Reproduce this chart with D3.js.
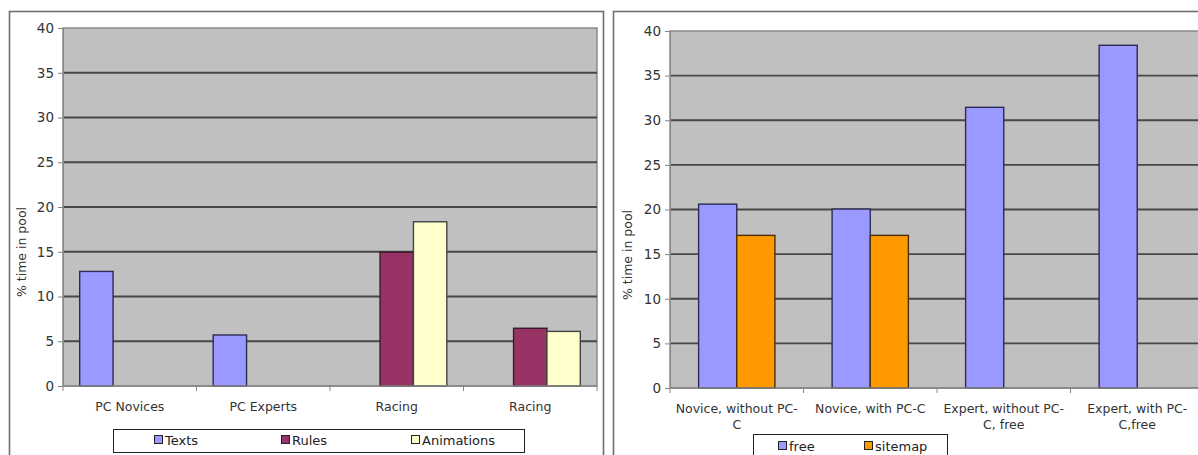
<!DOCTYPE html>
<html>
<head>
<meta charset="utf-8">
<script src="https://cdn.jsdelivr.net/npm/d3@7"></script>
<style>
  html, body { margin: 0; padding: 0; background: #fff; }
  svg { display: block; font-family: "DejaVu Sans", Verdana, sans-serif; }
</style>
</head>
<body>
<svg id="chart" width="1198" height="455"></svg>
<script>
// Left chart: share of time spent in the pool by user group and content type
const leftCategories = ["PC Novices", "PC Experts", "Racing", "Racing"];
const leftSeriesNames = ["Texts", "Rules", "Animations"];
const leftTexts = [12.8, 5.7, null, null];
const leftRules = [null, null, 14.95, 6.45];
const leftAnimations = [null, null, 18.35, 6.1];

// Right chart: free navigation versus sitemap
const rightCategories = [["Novice, without PC-", "C"], ["Novice, with PC-C"], ["Expert, without PC-", "C, free"], ["Expert, with PC-", "C,free"]];
const rightSeriesNames = ["free", "sitemap"];
const rightFree = [20.6, 20.05, 31.45, 38.4];
const rightSitemap = [17.1, 17.1, null, null];

const yTicks = [0, 5, 10, 15, 20, 25, 30, 35, 40];
const axisTitle = "% time in pool";

const svg = d3.select("#chart");

// outer frames of the two panels
svg.append("rect").attr("x", 9.5).attr("y", 11.5).attr("width", 594).attr("height", 460)
  .attr("fill", "#fff").attr("stroke", "#6e6e6e").attr("stroke-width", 1.6);
svg.append("rect").attr("x", 613.5).attr("y", 11.5).attr("width", 600).attr("height", 460)
  .attr("fill", "#fff").attr("stroke", "#6e6e6e").attr("stroke-width", 1.6);

function drawPanel(cfg) {
  const g = svg.append("g");
  const x = d3.scaleBand().domain(d3.range(cfg.categories.length))
    .range([cfg.x0, cfg.x1]).paddingInner(0).paddingOuter(0);
  const xs = d3.scaleBand().domain(d3.range(cfg.series.length))
    .range([0, x.bandwidth()]).paddingInner(0).paddingOuter(cfg.outerPad);
  const y = d3.scaleLinear().domain([0, 40]).range([cfg.y1, cfg.y0]);

  // plot background
  g.append("rect").attr("x", cfg.x0).attr("y", y(40)).attr("width", cfg.x1 - cfg.x0)
    .attr("height", y(0) - y(40)).attr("fill", "#c0c0c0")
    .attr("stroke", "#858585").attr("stroke-width", 1.4);

  // horizontal gridlines
  g.selectAll("line.grid").data(yTicks.filter(t => t > 0 && t < 40)).enter().append("line")
    .attr("x1", cfg.x0).attr("x2", cfg.x1)
    .attr("y1", d => y(d)).attr("y2", d => y(d))
    .attr("stroke", "#474747").attr("stroke-width", 1.8);

  // y axis
  const yAxis = d3.axisLeft(y).tickValues(yTicks).tickSize(5).tickPadding(4);
  const ya = g.append("g").attr("transform", `translate(${cfg.x0},0)`).call(yAxis);
  ya.select(".domain").attr("stroke", "#858585");
  ya.selectAll(".tick line").attr("stroke", "#858585");
  ya.selectAll(".tick text").attr("font-size", 13.5).attr("fill", "#333")
    .attr("font-family", "DejaVu Sans, Verdana, sans-serif");

  // bars
  cfg.values.forEach((vals, si) => {
    g.selectAll(null).data(vals.map((v, i) => ({ v, i })).filter(d => d.v != null))
      .enter().append("rect")
      .attr("x", d => x(d.i) + xs(si))
      .attr("y", d => y(d.v))
      .attr("width", xs.bandwidth())
      .attr("height", d => y(0) - y(d.v))
      .attr("fill", cfg.colors[si])
      .attr("stroke", cfg.strokes[si]).attr("stroke-width", 1.4);
  });

  // x axis with ticks between categories
  const xa = g.append("g");
  xa.append("line").attr("x1", cfg.x0).attr("x2", cfg.x1).attr("y1", y(0)).attr("y2", y(0))
    .attr("stroke", "#858585").attr("stroke-width", 1.4);
  const bounds = d3.range(cfg.categories.length + 1).map(i => cfg.x0 + i * x.step());
  xa.selectAll("line.t").data(bounds).enter().append("line")
    .attr("x1", d => d).attr("x2", d => d).attr("y1", y(0)).attr("y2", y(0) + 5)
    .attr("stroke", "#858585");

  // category labels
  cfg.categories.forEach((c, i) => {
    const lines = Array.isArray(c) ? c : [c];
    const t = xa.append("text").attr("text-anchor", "middle").attr("font-size", 12.5)
      .attr("fill", "#333");
    lines.forEach((ln, k) => {
      t.append("tspan").attr("x", x(i) + x.bandwidth() / 2)
        .attr("y", cfg.labelY + k * 16).text(ln);
    });
  });

  // axis title
  g.append("text").attr("transform", `translate(${cfg.titleX},${cfg.titleY}) rotate(-90)`)
    .attr("text-anchor", "middle").attr("font-size", 12.5).attr("fill", "#333").text(axisTitle);

  // legend
  const L = cfg.legend;
  g.append("rect").attr("x", L.x + 0.5).attr("y", L.y + 0.5).attr("width", L.w).attr("height", L.h)
    .attr("fill", "#fff").attr("stroke", "#222").attr("stroke-width", 1);
  cfg.series.forEach((s, si) => {
    const lx = L.items[si];
    g.append("rect").attr("x", lx + 0.5).attr("y", L.textY - 9.5).attr("width", 8).attr("height", 8)
      .attr("fill", cfg.colors[si]).attr("stroke", "#222").attr("stroke-width", 1);
    g.append("text").attr("x", lx + 11).attr("y", L.textY).attr("font-size", 13)
      .attr("fill", "#222").text(s);
  });
}

drawPanel({
  categories: leftCategories,
  series: leftSeriesNames,
  values: [leftTexts, leftRules, leftAnimations],
  colors: ["#9999ff", "#993366", "#ffffcc"],
  strokes: ["#2b2b55", "#3a1a2a", "#444"],
  outerPad: 0.5,
  x0: 63, x1: 597, y0: 28, y1: 386,
  labelY: 411,
  titleX: 26, titleY: 252,
  legend: { x: 113, y: 429, w: 411, h: 23, textY: 445, items: [154, 281, 411] }
});

drawPanel({
  categories: rightCategories,
  series: rightSeriesNames,
  values: [rightFree, rightSitemap],
  colors: ["#9999ff", "#ff9900"],
  strokes: ["#2b2b55", "#4a3000"],
  outerPad: 0.75,
  x0: 670, x1: 1204, y0: 31, y1: 388,
  labelY: 413,
  titleX: 632, titleY: 255,
  legend: { x: 753, y: 434, w: 194, h: 30, textY: 451, items: [778, 864] }
});
</script>
</body>
</html>
